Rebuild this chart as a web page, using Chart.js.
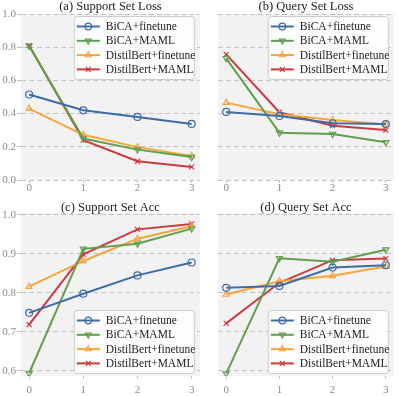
<!DOCTYPE html>
<html>
<head>
<meta charset="utf-8">
<script src="https://cdn.jsdelivr.net/npm/chart.js@4.4.0/dist/chart.umd.min.js"></script>
<style>
  body { margin: 0; background: #fff; }
  #wrap { position: relative; width: 399px; height: 396px; }
  .panel { position: absolute; }
</style>
</head>
<body>
<div id="wrap">
  <div class="panel" style="left:0;top:0;width:205px;height:198px"><canvas id="cA"></canvas></div>
  <div class="panel" style="left:213px;top:0;width:186px;height:198px"><canvas id="cB"></canvas></div>
  <div class="panel" style="left:0;top:200px;width:205px;height:196px"><canvas id="cC"></canvas></div>
  <div class="panel" style="left:213px;top:200px;width:186px;height:196px"><canvas id="cD"></canvas></div>
</div>
<script>
// datos
const steps = [0, 1, 2, 3];
const seriesNames = ['BiCA+finetune', 'BiCA+MAML', 'DistilBert+finetune', 'DistilBert+MAML'];

const supLossBicaFt   = [0.515, 0.420, 0.380, 0.338];
const supLossBicaMaml = [0.808, 0.250, 0.183, 0.138];
const supLossDistFt   = [0.430, 0.272, 0.198, 0.145];
const supLossDistMaml = [0.810, 0.240, 0.113, 0.079];

const qryLossBicaFt   = [0.410, 0.386, 0.342, 0.337];
const qryLossBicaMaml = [0.733, 0.285, 0.277, 0.227];
const qryLossDistFt   = [0.466, 0.396, 0.361, 0.335];
const qryLossDistMaml = [0.757, 0.408, 0.327, 0.301];

const supAccBicaFt   = [0.749, 0.798, 0.845, 0.878];
const supAccBicaMaml = [0.594, 0.913, 0.926, 0.965];
const supAccDistFt   = [0.816, 0.882, 0.939, 0.971];
const supAccDistMaml = [0.719, 0.899, 0.963, 0.977];

const qryAccBicaFt   = [0.813, 0.818, 0.865, 0.871];
const qryAccBicaMaml = [0.593, 0.889, 0.880, 0.911];
const qryAccDistFt   = [0.796, 0.830, 0.844, 0.868];
const qryAccDistMaml = [0.722, 0.826, 0.884, 0.888];

const lossTicks = [0.0, 0.2, 0.4, 0.6, 0.8, 1.0];
const accTicks = [0.6, 0.7, 0.8, 0.9, 1.0];

const colores = ['#3d6ca6', '#5f9f4f', '#f4a63a', '#cc3a40'];
const marcadores = [
  { pointStyle: 'circle', rotation: 0 },
  { pointStyle: 'triangle', rotation: 180 },
  { pointStyle: 'triangle', rotation: 0 },
  { pointStyle: 'crossRot', rotation: 0 }
];
const fuente = "'Liberation Serif', 'DejaVu Serif', serif";

// fondo gris del area del grafico + titulo centrado sobre el area
const fondoPlugin = {
  id: 'fondo',
  beforeDraw(chart, args, opts) {
    const a = chart.chartArea, ctx = chart.ctx;
    ctx.save();
    ctx.fillStyle = '#f2f2f2';
    ctx.fillRect(a.left, a.top, a.right - a.left, a.bottom - a.top);
    ctx.fillStyle = '#222';
    ctx.font = '12.5px ' + fuente;
    ctx.textAlign = 'center';
    ctx.textBaseline = 'middle';
    ctx.fillText(opts.titulo, (a.left + a.right) / 2, opts.tituloY);
    ctx.restore();
  }
};

function dibujarMarcador(ctx, i, x, y, r) {
  ctx.save();
  ctx.strokeStyle = colores[i];
  ctx.lineWidth = 1.2;
  ctx.beginPath();
  if (i === 0) {
    ctx.arc(x, y, r, 0, Math.PI * 2);
  } else if (i === 1 || i === 2) {
    const s = i === 1 ? -1 : 1;
    ctx.moveTo(x, y - s * r);
    ctx.lineTo(x + r * 0.87, y + s * r * 0.5);
    ctx.lineTo(x - r * 0.87, y + s * r * 0.5);
    ctx.closePath();
  } else {
    const d = r * 0.75;
    ctx.moveTo(x - d, y - d); ctx.lineTo(x + d, y + d);
    ctx.moveTo(x + d, y - d); ctx.lineTo(x - d, y + d);
  }
  ctx.stroke();
  ctx.restore();
}

// leyenda dentro del area del grafico
const leyendaPlugin = {
  id: 'leyendaCaja',
  afterDraw(chart, args, opts) {
    const a = chart.chartArea, ctx = chart.ctx;
    const w = 120, h = 63;
    const x0 = a.right - w - 6;
    const y0 = opts.lugar === 'abajo' ? a.bottom - h - 3 : a.top + 2;
    ctx.save();
    ctx.fillStyle = 'rgba(255,255,255,0.85)';
    ctx.strokeStyle = '#cccccc';
    ctx.lineWidth = 1;
    ctx.beginPath();
    ctx.roundRect(x0 + 0.5, y0 + 0.5, w, h, 3);
    ctx.fill();
    ctx.stroke();
    ctx.font = '11.5px ' + fuente;
    ctx.textBaseline = 'middle';
    seriesNames.forEach((nombre, i) => {
      const y = y0 + 10.5 + i * 14.3;
      ctx.strokeStyle = colores[i];
      ctx.lineWidth = 2;
      ctx.beginPath();
      ctx.moveTo(x0 + 3, y);
      ctx.lineTo(x0 + 26, y);
      ctx.stroke();
      dibujarMarcador(ctx, i, x0 + 14.5, y, 3.3);
      ctx.fillStyle = '#222';
      ctx.fillText(nombre, x0 + 32, y + 0.5);
    });
    ctx.restore();
  }
};

function crearPanel(id, titulo, series, yMin, yMax, yTicks, conEtiquetasY, arriba) {
  const datasets = series.map((valores, i) => ({
    label: seriesNames[i],
    data: valores.map((v, k) => ({ x: steps[k], y: v })),
    borderColor: colores[i],
    backgroundColor: 'rgba(0,0,0,0)',
    borderWidth: 2,
    pointStyle: marcadores[i].pointStyle,
    rotation: marcadores[i].rotation,
    pointRadius: 3.5,
    pointBorderWidth: 1.2,
    pointBorderColor: colores[i],
    pointBackgroundColor: 'rgba(0,0,0,0)',
    tension: 0
  }));

  return new Chart(document.getElementById(id), {
    type: 'line',
    data: { datasets: datasets },
    options: {
      responsive: true,
      maintainAspectRatio: false,
      animation: false,
      events: [],
      layout: { padding: { left: 0, right: conEtiquetasY ? 2 : 3, top: arriba ? 14 : 13, bottom: 0 } },
      scales: {
        x: {
          type: 'linear',
          min: -0.15,
          max: 3.15,
          afterBuildTicks: s => { s.ticks = steps.map(v => ({ value: v })); },
          afterFit: s => { s.height = arriba ? 18 : 20; },
          grid: { drawOnChartArea: false, drawTicks: true, tickLength: 3, color: '#c4c4c4' },
          border: { display: false },
          ticks: { color: '#8a8a8a', padding: arriba ? -1 : 5, font: { family: fuente, size: 11 } }
        },
        y: {
          min: yMin,
          max: yMax,
          afterBuildTicks: s => { s.ticks = yTicks.map(v => ({ value: v })); },
          afterFit: s => { s.width = conEtiquetasY ? 21 : 0; },
          grid: { color: '#c2c2c2', lineWidth: 1, drawTicks: conEtiquetasY, tickLength: 4 },
          border: { display: false, dash: [5, 3] },
          ticks: {
            display: conEtiquetasY,
            color: '#8a8a8a',
            padding: 1,
            font: { family: fuente, size: 11 },
            callback: v => v.toFixed(1)
          }
        }
      },
      plugins: {
        legend: { display: false },
        tooltip: { enabled: false },
        title: { display: false },
        fondo: { titulo: titulo, tituloY: arriba ? 6.5 : 7.5 },
        leyendaCaja: { lugar: arriba ? 'arriba' : 'abajo' }
      }
    },
    plugins: [fondoPlugin, leyendaPlugin]
  });
}

document.addEventListener('DOMContentLoaded', function () {
  crearPanel('cA', '(a) Support Set Loss',
    [supLossBicaFt, supLossBicaMaml, supLossDistFt, supLossDistMaml], 0, 1, lossTicks, true, true);
  crearPanel('cB', '(b) Query Set Loss',
    [qryLossBicaFt, qryLossBicaMaml, qryLossDistFt, qryLossDistMaml], 0, 1, lossTicks, false, true);
  crearPanel('cC', '(c) Support Set Acc',
    [supAccBicaFt, supAccBicaMaml, supAccDistFt, supAccDistMaml], 0.587, 1.005, accTicks, true, false);
  crearPanel('cD', '(d) Query Set Acc',
    [qryAccBicaFt, qryAccBicaMaml, qryAccDistFt, qryAccDistMaml], 0.587, 1.005, accTicks, false, false);
});
</script>
</body>
</html>
